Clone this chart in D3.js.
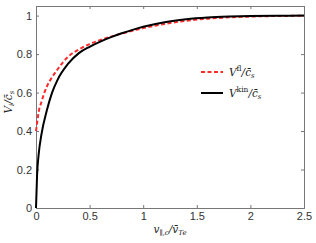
<!DOCTYPE html>
<html>
<head>
<meta charset="utf-8">
<script src="https://cdn.jsdelivr.net/npm/d3@7"></script>
<style>
  body { margin: 0; background: #fff; }
  .tick text { font-family: "Liberation Sans", Arial, sans-serif; font-size: 11px; fill: #333; }
  .lab { font-family: "DejaVu Serif", "Liberation Serif", serif; font-style: italic; fill: #222; }
</style>
</head>
<body>
<svg id="chart"></svg>
<script>
var width = 316,
    height = 243;
var margin = {top: 6, right: 12, bottom: 35, left: 36};

// data
var xs = [0, 0.01, 0.025, 0.05, 0.1, 0.15, 0.2, 0.3, 0.4, 0.5, 0.6, 0.7, 0.8, 0.9, 1.0, 1.2, 1.4, 1.6, 1.8, 2.0, 2.25, 2.5];
var kinetic = [0, 0.17, 0.28, 0.38, 0.505, 0.6, 0.665, 0.75, 0.805, 0.838, 0.865, 0.888, 0.908, 0.926, 0.942, 0.966, 0.981, 0.99, 0.995, 0.998, 0.999, 1.0];
var fluid = [0.4, 0.44, 0.5, 0.55, 0.63, 0.68, 0.72, 0.787, 0.824, 0.852, 0.873, 0.891, 0.907, 0.921, 0.935, 0.957, 0.973, 0.984, 0.991, 0.995, 0.998, 0.999];
var xTicks = [0, 0.5, 1, 1.5, 2, 2.5];
var yTicks = [0, 0.2, 0.4, 0.6, 0.8, 1];

var svg = d3.select("#chart")
    .attr("width", width)
    .attr("height", height);

var x = d3.scaleLinear().domain([0, 2.5]).range([margin.left, width - margin.right]);
var y = d3.scaleLinear().domain([0, 1.05]).range([height - margin.bottom, margin.top]);

var fmt = function(d) { return d3.format("~g")(d); };

// axes with inward ticks
svg.append("g")
  .attr("transform", "translate(0," + y(0) + ")")
  .call(d3.axisBottom(x).tickValues(xTicks).tickSize(-3).tickPadding(4).tickFormat(fmt));
svg.append("g")
  .attr("transform", "translate(0," + y(1.05) + ")")
  .call(d3.axisTop(x).tickValues(xTicks).tickSize(-3).tickFormat(""));
svg.append("g")
  .attr("transform", "translate(" + x(0) + ",0)")
  .call(d3.axisLeft(y).tickValues(yTicks).tickSize(-3).tickPadding(4).tickFormat(fmt));
svg.append("g")
  .attr("transform", "translate(" + x(2.5) + ",0)")
  .call(d3.axisRight(y).tickValues(yTicks).tickSize(-3).tickFormat(""));

svg.selectAll(".domain").attr("stroke", "#777");
svg.selectAll(".tick line").attr("stroke", "#777");

var pts = function(vals) { return xs.map(function(d, i) { return [d, vals[i]]; }); };
var line = d3.line()
  .x(function(d) { return x(d[0]); })
  .y(function(d) { return y(d[1]); })
  .curve(d3.curveMonotoneX);

svg.append("path")
  .datum(pts(fluid))
  .attr("d", line)
  .attr("fill", "none")
  .attr("stroke", "#ff2a2a")
  .attr("stroke-width", 2)
  .attr("stroke-dasharray", "4,2.5");

svg.append("path")
  .datum(pts(kinetic))
  .attr("d", line)
  .attr("fill", "none")
  .attr("stroke", "#000")
  .attr("stroke-width", 2);

// legend
var lg = svg.append("g").attr("transform", "translate(201,72)");
lg.append("line").attr("x1", 0).attr("x2", 22).attr("y1", 0).attr("y2", 0)
  .attr("stroke", "#ff2a2a").attr("stroke-width", 2).attr("stroke-dasharray", "4,2.5");
lg.append("line").attr("x1", 0).attr("x2", 22).attr("y1", 21).attr("y2", 21)
  .attr("stroke", "#000").attr("stroke-width", 2);

function vLabel(g, yPos, sup) {
  var t = g.append("text").attr("class", "lab").attr("x", 28).attr("y", yPos + 4).style("font-size", "10.5px");
  t.append("tspan").text("V");
  t.append("tspan").attr("dy", "-5").style("font-size", "7.5px").style("font-style", "normal").text(sup);
  t.append("tspan").attr("dy", "5").text("/c̄");
  t.append("tspan").attr("dy", "2").style("font-size", "7px").text("s");
}
vLabel(lg, 0, "fl");
vLabel(lg, 21, "kin");

// axis labels
var yl = svg.append("text").attr("class", "lab")
  .attr("transform", "translate(12," + y(0.55) + ") rotate(-90)")
  .attr("text-anchor", "middle").style("font-size", "10.5px");
yl.append("tspan").text("V");
yl.append("tspan").attr("dy", "2").style("font-size", "7px").text("i");
yl.append("tspan").attr("dy", "-2").text("/c̄");
yl.append("tspan").attr("dy", "2").style("font-size", "7px").text("s");

var xl = svg.append("text").attr("class", "lab")
  .attr("x", x(1.25)).attr("y", 233)
  .attr("text-anchor", "middle").style("font-size", "10.5px");
xl.append("tspan").text("v");
xl.append("tspan").attr("dy", "2").style("font-size", "7px").text("∥,c");
xl.append("tspan").attr("dy", "-2").text("/v̄");
xl.append("tspan").attr("dy", "2").style("font-size", "7px").text("Te");
</script>
</body>
</html>
